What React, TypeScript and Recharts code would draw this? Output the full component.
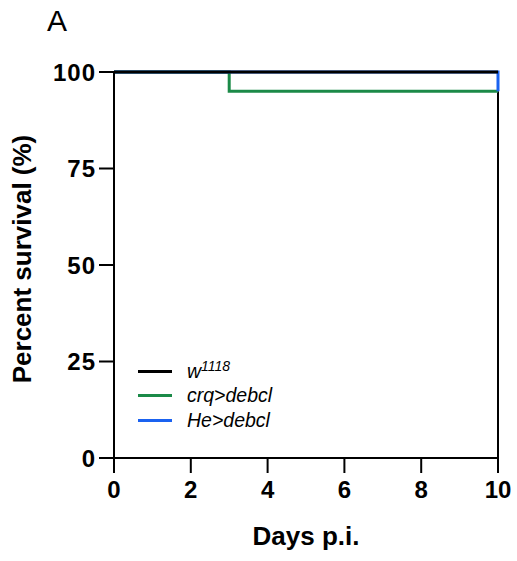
import { LineChart, Line, XAxis, YAxis, ReferenceLine } from 'recharts'

// survival steps (day, percent)
const w1118Days = [0, 10]
const w1118Surv = [100, 100]
const crqDays = [0, 3, 10]
const crqSurv = [100, 95, 95]
const heDays = [0, 10, 10]
const heSurv = [100, 100, 95]

const xTicks = [0, 2, 4, 6, 8, 10]
const yTicks = [0, 25, 50, 75, 100]

const toRows = (days: number[], vals: number[]) => days.map((d, i) => ({ day: d, v: vals[i] }))

const series = [
  { name: 'crq>debcl', color: '#1b8a48', data: toRows(crqDays, crqSurv) },
  { name: 'He>debcl', color: '#1a62f0', data: toRows(heDays, heSurv) },
  { name: 'w1118', color: '#000000', data: toRows(w1118Days, w1118Surv) },
]

const legendOrder = ['w1118', 'crq>debcl', 'He>debcl']
const font = '"Liberation Sans", Arial, sans-serif'

function LegendBox() {
  return (
    <div style={{ position: 'absolute', left: 138, top: 359, fontFamily: font, fontStyle: 'italic', fontSize: 19.5 }}>
      {legendOrder.map(n => {
        const s = series.find(x => x.name === n)!
        return (
          <div key={n} style={{ display: 'flex', alignItems: 'center', height: 24.5 }}>
            <div style={{ width: 34, height: 3, background: s.color, marginRight: 15 }} />
            {n === 'w1118'
              ? <span>w<span style={{ fontSize: 14, position: 'relative', top: -7 }}>1118</span></span>
              : <span>{n}</span>}
          </div>
        )
      })}
    </div>
  )
}

export default function App() {
  const last = crqSurv[crqSurv.length - 1]
  return (
    <div style={{ position: 'absolute', left: 0, top: 0, width: 517, height: 561, background: '#fff' }}>
      <div style={{ position: 'absolute', left: 47, top: 4, fontFamily: font, fontSize: 30 }}>A</div>
      <LineChart width={517} height={561} margin={{ top: 72, right: 19, left: 0, bottom: 0 }}>
        <XAxis
          type="number"
          dataKey="day"
          domain={[0, 10]}
          ticks={xTicks}
          allowDuplicatedCategory={false}
          height={103}
          stroke="#000"
          strokeWidth={2}
          tickSize={15}
          tick={{ fill: '#000', fontSize: 24, fontWeight: 'bold', fontFamily: font, dy: 6 }}
          label={{ value: 'Days p.i.', position: 'insideBottom', offset: 16, fill: '#000', fontSize: 26, fontWeight: 'bold', fontFamily: font }}
        />
        <YAxis
          type="number"
          domain={[0, 100]}
          ticks={yTicks}
          width={114}
          stroke="#000"
          strokeWidth={2}
          tickSize={15}
          tick={{ fill: '#000', fontSize: 24, fontWeight: 'bold', fontFamily: font, letterSpacing: 1, dx: -1 }}
          label={{ value: 'Percent survival (%)', angle: -90, position: 'insideLeft', offset: 22, dy: -6, style: { textAnchor: 'middle' }, fill: '#000', fontSize: 26, fontWeight: 'bold', fontFamily: font }}
        />
        <ReferenceLine segment={[{ x: 10, y: last }, { x: 10, y: 0 }]} stroke="#000" strokeWidth={2} />
        {series.map(s => (
          <Line
            key={s.name}
            data={s.data}
            dataKey="v"
            name={s.name}
            type="stepAfter"
            stroke={s.color}
            strokeWidth={3}
            dot={false}
            isAnimationActive={false}
          />
        ))}
      </LineChart>
      <LegendBox />
    </div>
  )
}
